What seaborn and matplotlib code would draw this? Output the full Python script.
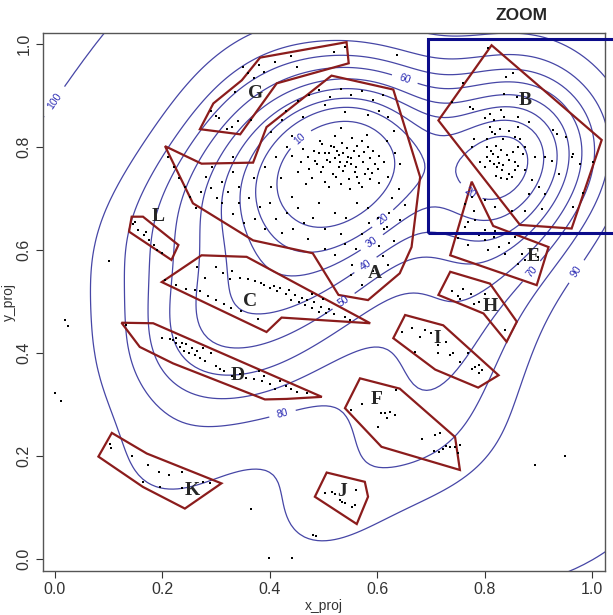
import numpy as np
import pandas as pd
import matplotlib
matplotlib.use('Agg')
import matplotlib.pyplot as plt
import seaborn as sns
from matplotlib.contour import ContourSet
from matplotlib.patches import Polygon, Rectangle

sns.set_style('ticks')
plt.rcParams['font.family'] = ['Liberation Sans', 'DejaVu Sans']

# ---- points, per cluster ----
pts_A = [(0.462, 0.797), (0.471, 0.781), (0.474, 0.758), (0.483, 0.792), (0.479, 0.741), (0.493, 0.812),
         (0.488, 0.768), (0.496, 0.752), (0.502, 0.788), (0.507, 0.776), (0.499, 0.761), (0.503, 0.733),
         (0.514, 0.803), (0.512, 0.771), (0.517, 0.748), (0.522, 0.821), (0.526, 0.793), (0.521, 0.779),
         (0.528, 0.762), (0.523, 0.742), (0.534, 0.808), (0.537, 0.788), (0.531, 0.771), (0.536, 0.754),
         (0.533, 0.728), (0.543, 0.798), (0.546, 0.781), (0.541, 0.763), (0.547, 0.738), (0.553, 0.817),
         (0.556, 0.792), (0.552, 0.768), (0.558, 0.751), (0.563, 0.803), (0.566, 0.783), (0.561, 0.762),
         (0.567, 0.731), (0.572, 0.812), (0.576, 0.791), (0.573, 0.772), (0.578, 0.748), (0.583, 0.801),
         (0.587, 0.779), (0.582, 0.758), (0.586, 0.738), (0.593, 0.793), (0.596, 0.768), (0.591, 0.749),
         (0.603, 0.782), (0.601, 0.758), (0.458, 0.771), (0.484, 0.774), (0.511, 0.788), (0.544, 0.772),
         (0.551, 0.779), (0.529, 0.784), (0.497, 0.807), (0.562, 0.742), (0.519, 0.801), (0.491, 0.789),
         (0.612, 0.771), (0.468, 0.729), (0.571, 0.722), (0.549, 0.719), (0.511, 0.723), (0.452, 0.751),
         (0.441, 0.782), (0.604, 0.731), (0.581, 0.823), (0.532, 0.838),
         (0.431, 0.871), (0.452, 0.889), (0.473, 0.902), (0.492, 0.912), (0.512, 0.898), (0.533, 0.913),
         (0.552, 0.901), (0.571, 0.909), (0.592, 0.891), (0.611, 0.902), (0.603, 0.871), (0.582, 0.862),
         (0.541, 0.868), (0.503, 0.881), (0.462, 0.858), (0.422, 0.852), (0.403, 0.829), (0.621, 0.858),
         (0.632, 0.831), (0.618, 0.812),
         (0.633, 0.789), (0.642, 0.768), (0.621, 0.742), (0.641, 0.719), (0.628, 0.701), (0.652, 0.688),
         (0.622, 0.672), (0.643, 0.658), (0.612, 0.642), (0.631, 0.618), (0.603, 0.608), (0.611, 0.588),
         (0.621, 0.571), (0.592, 0.559), (0.601, 0.662), (0.583, 0.681), (0.562, 0.692), (0.572, 0.631),
         (0.584, 0.652), (0.561, 0.602), (0.618, 0.645),
         (0.361, 0.702), (0.382, 0.683), (0.401, 0.692), (0.412, 0.661), (0.433, 0.672), (0.441, 0.703),
         (0.452, 0.681), (0.463, 0.652), (0.481, 0.663), (0.492, 0.692), (0.503, 0.641), (0.521, 0.672),
         (0.533, 0.631), (0.542, 0.662), (0.372, 0.661), (0.391, 0.642), (0.422, 0.633), (0.443, 0.641),
         (0.472, 0.622), (0.352, 0.652), (0.331, 0.671), (0.312, 0.692), (0.342, 0.722), (0.371, 0.741),
         (0.392, 0.762), (0.412, 0.781), (0.421, 0.741), (0.432, 0.801), (0.402, 0.722), (0.441, 0.821),
         (0.502, 0.602), (0.521, 0.591), (0.541, 0.612), (0.552, 0.551), (0.571, 0.532), (0.553, 0.572),
         (0.211, 0.781), (0.222, 0.762), (0.231, 0.741), (0.242, 0.722), (0.251, 0.703), (0.262, 0.682),
         (0.282, 0.742), (0.291, 0.721), (0.302, 0.702), (0.311, 0.732), (0.322, 0.712), (0.331, 0.752),
         (0.342, 0.692), (0.272, 0.712), (0.293, 0.762), (0.331, 0.781)]

pts_B = [(0.807, 0.992), (0.853, 0.944), (0.840, 0.937), (0.773, 0.878), (0.779, 0.875), (0.760, 0.924),
         (0.739, 0.887), (0.800, 0.856), (0.810, 0.839), (0.813, 0.830), (0.820, 0.826), (0.828, 0.836),
         (0.845, 0.832), (0.857, 0.820), (0.866, 0.816), (0.876, 0.800), (0.835, 0.815), (0.804, 0.815),
         (0.804, 0.780), (0.810, 0.774), (0.817, 0.767), (0.826, 0.770), (0.823, 0.761), (0.832, 0.755),
         (0.845, 0.748), (0.851, 0.742), (0.842, 0.739), (0.857, 0.755), (0.863, 0.764), (0.876, 0.755),
         (0.888, 0.736), (0.901, 0.723), (0.913, 0.710), (0.882, 0.710), (0.927, 0.833), (0.934, 0.826),
         (0.952, 0.820), (0.965, 0.787), (0.962, 0.780), (0.977, 0.767), (1.002, 0.771), (0.983, 0.711),
         (0.925, 0.774), (0.938, 0.748), (0.913, 0.780), (0.894, 0.780), (0.800, 0.697), (0.820, 0.684),
         (0.851, 0.677), (0.876, 0.677), (0.907, 0.680), (0.965, 0.684), (0.780, 0.815), (0.777, 0.800),
         (0.817, 0.852), (0.836, 0.858), (0.863, 0.840), (0.810, 0.865), (0.830, 0.872), (0.863, 0.858),
         (0.882, 0.848), (0.836, 0.904), (0.860, 0.898), (0.805, 0.801), (0.811, 0.792), (0.821, 0.803),
         (0.815, 0.786), (0.831, 0.795), (0.825, 0.781), (0.841, 0.785), (0.852, 0.791), (0.835, 0.766),
         (0.846, 0.775), (0.856, 0.771), (0.821, 0.745), (0.831, 0.741), (0.801, 0.762), (0.791, 0.771),
         (0.862, 0.801), (0.871, 0.786)]

pts_C = [(0.205, 0.542), (0.226, 0.532), (0.245, 0.525), (0.261, 0.522), (0.264, 0.568), (0.300, 0.568),
         (0.313, 0.555), (0.326, 0.544), (0.345, 0.545), (0.360, 0.544), (0.373, 0.540), (0.383, 0.537),
         (0.390, 0.533), (0.400, 0.527), (0.407, 0.531), (0.414, 0.520), (0.420, 0.526), (0.430, 0.514),
         (0.435, 0.522), (0.440, 0.503), (0.447, 0.512), (0.455, 0.500), (0.460, 0.508), (0.466, 0.493),
         (0.470, 0.503), (0.478, 0.487), (0.482, 0.500), (0.491, 0.480), (0.495, 0.490), (0.504, 0.477),
         (0.510, 0.485), (0.520, 0.475), (0.540, 0.470), (0.550, 0.465), (0.300, 0.503), (0.315, 0.495),
         (0.328, 0.488), (0.346, 0.482), (0.378, 0.466), (0.478, 0.514), (0.500, 0.505), (0.285, 0.510),
         (0.270, 0.520), (0.330, 0.560), (0.280, 0.545)]

pts_D = [(0.133, 0.454), (0.200, 0.430), (0.215, 0.428), (0.220, 0.425), (0.226, 0.419), (0.226, 0.430),
         (0.232, 0.412), (0.236, 0.420), (0.241, 0.405), (0.245, 0.417), (0.250, 0.400), (0.255, 0.410),
         (0.260, 0.396), (0.265, 0.405), (0.270, 0.390), (0.275, 0.410), (0.280, 0.385), (0.290, 0.400),
         (0.300, 0.375), (0.308, 0.370), (0.315, 0.365), (0.330, 0.356), (0.345, 0.360), (0.355, 0.352),
         (0.370, 0.350), (0.380, 0.365), (0.386, 0.345), (0.390, 0.355), (0.400, 0.340), (0.410, 0.330),
         (0.420, 0.345), (0.430, 0.336), (0.440, 0.330), (0.450, 0.325), (0.470, 0.322)]

pts_E = [(0.769, 0.654), (0.782, 0.658), (0.763, 0.645), (0.790, 0.630), (0.800, 0.620), (0.818, 0.625),
         (0.830, 0.632), (0.845, 0.613), (0.857, 0.625), (0.870, 0.593), (0.876, 0.580), (0.863, 0.574),
         (0.826, 0.606), (0.838, 0.593), (0.807, 0.600), (0.770, 0.610), (0.750, 0.624), (0.900, 0.586),
         (0.780, 0.677), (0.776, 0.703), (0.763, 0.690), (0.800, 0.640), (0.820, 0.638)]

pts_G = [(0.350, 0.955), (0.360, 0.945), (0.380, 0.960), (0.390, 0.947), (0.410, 0.966), (0.440, 0.978),
         (0.520, 0.984), (0.540, 0.994), (0.335, 0.907), (0.300, 0.860), (0.290, 0.870), (0.330, 0.840),
         (0.365, 0.853), (0.305, 0.857), (0.320, 0.835), (0.340, 0.850), (0.370, 0.935), (0.450, 0.955)]

pts_F = [(0.571, 0.302), (0.552, 0.289), (0.608, 0.283), (0.614, 0.283), (0.624, 0.285), (0.634, 0.279),
         (0.619, 0.273), (0.601, 0.256), (0.635, 0.329), (0.684, 0.233), (0.708, 0.241), (0.717, 0.244),
         (0.715, 0.207), (0.722, 0.214), (0.735, 0.217), (0.745, 0.217), (0.754, 0.222), (0.750, 0.205),
         (0.705, 0.210), (0.728, 0.220)]

pts_H = [(0.740, 0.520), (0.750, 0.510), (0.760, 0.525), (0.775, 0.515), (0.780, 0.495), (0.800, 0.515),
         (0.790, 0.500), (0.838, 0.445), (0.755, 0.505)]

pts_I = [(0.646, 0.441), (0.664, 0.448), (0.680, 0.432), (0.689, 0.445), (0.700, 0.440), (0.713, 0.415),
         (0.728, 0.421), (0.741, 0.400), (0.670, 0.403), (0.714, 0.400), (0.735, 0.396), (0.755, 0.383),
         (0.770, 0.400), (0.776, 0.370), (0.782, 0.373), (0.790, 0.376), (0.795, 0.367), (0.790, 0.362)]

pts_J = [(0.503, 0.129), (0.515, 0.131), (0.522, 0.127), (0.530, 0.114), (0.534, 0.110), (0.540, 0.108),
         (0.553, 0.102), (0.559, 0.105), (0.560, 0.135)]

pts_K = [(0.102, 0.223), (0.104, 0.215), (0.143, 0.200), (0.174, 0.183), (0.194, 0.170), (0.213, 0.163),
         (0.236, 0.170), (0.164, 0.150), (0.195, 0.139), (0.236, 0.138), (0.276, 0.150), (0.289, 0.148)]

pts_L = [(0.145, 0.650), (0.155, 0.640), (0.165, 0.630), (0.175, 0.620), (0.185, 0.610), (0.190, 0.600),
         (0.200, 0.595), (0.150, 0.655), (0.170, 0.635)]

pts_other = [(0.019, 0.464), (0.025, 0.452), (0.000, 0.323), (0.011, 0.307), (0.366, 0.098), (0.398, 0.002),
             (0.442, 0.002), (0.480, 0.047), (0.487, 0.045), (0.894, 0.183), (0.950, 0.200), (0.101, 0.579),
             (0.637, 0.979)]

# ---- cluster outlines and their letters ----
poly_A = [(0.205, 0.802), (0.273, 0.768), (0.369, 0.770), (0.394, 0.839), (0.515, 0.939), (0.630, 0.912),
          (0.680, 0.742), (0.664, 0.606), (0.642, 0.555), (0.583, 0.503), (0.528, 0.513), (0.480, 0.594),
          (0.369, 0.619), (0.257, 0.691)]
poly_B = [(0.813, 0.998), (1.018, 0.814), (0.962, 0.642), (0.866, 0.649), (0.714, 0.852)]
poly_C = [(0.199, 0.538), (0.273, 0.590), (0.357, 0.587), (0.587, 0.458), (0.422, 0.469), (0.394, 0.441)]
poly_D = [(0.124, 0.459), (0.183, 0.458), (0.497, 0.315), (0.431, 0.311), (0.391, 0.310), (0.220, 0.380),
          (0.158, 0.412)]
poly_E = [(0.776, 0.733), (0.816, 0.647), (0.919, 0.606), (0.897, 0.532), (0.736, 0.590)]
poly_F = [(0.568, 0.351), (0.642, 0.331), (0.745, 0.237), (0.754, 0.173), (0.608, 0.218), (0.540, 0.293)]
poly_G = [(0.382, 0.974), (0.543, 1.004), (0.547, 0.963), (0.413, 0.924), (0.345, 0.825), (0.270, 0.835),
          (0.295, 0.885), (0.348, 0.930)]
poly_H = [(0.736, 0.558), (0.810, 0.535), (0.860, 0.461), (0.841, 0.422), (0.798, 0.477), (0.714, 0.513)]
poly_I = [(0.652, 0.474), (0.723, 0.454), (0.826, 0.357), (0.788, 0.333), (0.708, 0.368), (0.630, 0.429)]
poly_J = [(0.506, 0.168), (0.577, 0.150), (0.583, 0.121), (0.562, 0.068), (0.484, 0.121)]
poly_K = [(0.106, 0.245), (0.171, 0.205), (0.310, 0.147), (0.242, 0.098), (0.164, 0.140), (0.081, 0.199)]
poly_L = [(0.143, 0.665), (0.164, 0.665), (0.230, 0.610), (0.217, 0.581), (0.138, 0.636)]

letters = ['A', 'B', 'C', 'D', 'E', 'F', 'G', 'H', 'I', 'J', 'K', 'L']
letter_x = [0.596, 0.875, 0.363, 0.341, 0.891, 0.598, 0.374, 0.810, 0.712, 0.534, 0.256, 0.192]
letter_y = [0.555, 0.891, 0.500, 0.357, 0.587, 0.310, 0.905, 0.490, 0.429, 0.131, 0.134, 0.665]

# contour levels (seaborn iso-proportions) and the % labels printed on them
kde_levels = [0.0008, 0.1, 0.2, 0.3, 0.4, 0.5, 0.6, 0.7, 0.8, 0.9]
kde_labels = [100, 90, 80, 70, 60, 50, 40, 30, 20, 10]

zoom_box = (0.695, 0.633)  # lower-left corner of the ZOOM frame

all_pts = (pts_A + pts_B + pts_C + pts_D + pts_E + pts_G + pts_F + pts_H + pts_I + pts_J + pts_K + pts_L
           + pts_other)
df = pd.DataFrame(all_pts, columns=['x_proj', 'y_proj'])

fig = plt.figure(figsize=(6.13, 6.15), dpi=100)
ax = fig.add_axes([0.070, 0.0715, 0.917, 0.8745])

line_blue = '#4646a6'
sns.kdeplot(data=df, x='x_proj', y='y_proj', levels=kde_levels, color=line_blue,
            linewidths=0.9, bw_adjust=1.3, ax=ax)
cs = [c for c in ax.collections if isinstance(c, ContourSet)][-1]
fmt = {lev: str(lab) for lev, lab in zip(cs.levels, kde_labels)}
ax.clabel(cs, fmt=fmt, fontsize=7.5, inline=True, inline_spacing=3, colors='#2c2cb4')

polys = [poly_A, poly_B, poly_C, poly_D, poly_E, poly_F, poly_G, poly_H, poly_I, poly_J, poly_K, poly_L]
for p in polys:
    ax.add_patch(Polygon(p, closed=True, fill=False, edgecolor='#8b1c1c', linewidth=1.6, zorder=3))

sns.scatterplot(data=df, x='x_proj', y='y_proj', s=2.5, color='black', marker='s', linewidth=0,
                ax=ax, zorder=4)

for t, x, y in zip(letters, letter_x, letter_y):
    ax.text(x, y, t, family=['Liberation Serif', 'DejaVu Serif'], fontweight='bold', fontsize=14,
            ha='center', va='center', zorder=5)

ax.add_patch(Rectangle(zoom_box, 0.5, 1.011 - zoom_box[1], fill=False, edgecolor='#0c0c8a',
                       linewidth=2.2, clip_on=False, zorder=6))
fig.text(522 / 613, 1 - 16 / 615, 'ZOOM', fontsize=12.5, fontweight='bold', ha='center', va='center')

ax.set_xlim(-0.0223, 1.0242)
ax.set_ylim(-0.0233, 1.0214)
ticks = [0.0, 0.2, 0.4, 0.6, 0.8, 1.0]
ax.set_xticks(ticks)
ax.set_yticks(ticks)
ax.set_xticklabels([f'{t:.1f}' for t in ticks])
ax.set_yticklabels([f'{t:.1f}' for t in ticks], rotation=90, va='center')
ax.tick_params(labelsize=11.5, colors='#333333', length=5, width=0.8, pad=3)
for s in ax.spines.values():
    s.set_color('#555555')
    s.set_linewidth(1.0)
ax.set_xlabel('x_proj', fontsize=10, color='#333333')
ax.set_ylabel('y_proj', fontsize=10, color='#333333')
ax.xaxis.set_label_coords(0.5, -0.052)
ax.yaxis.set_label_coords(-0.048, 0.5)

fig.savefig('out.png', dpi=100)
